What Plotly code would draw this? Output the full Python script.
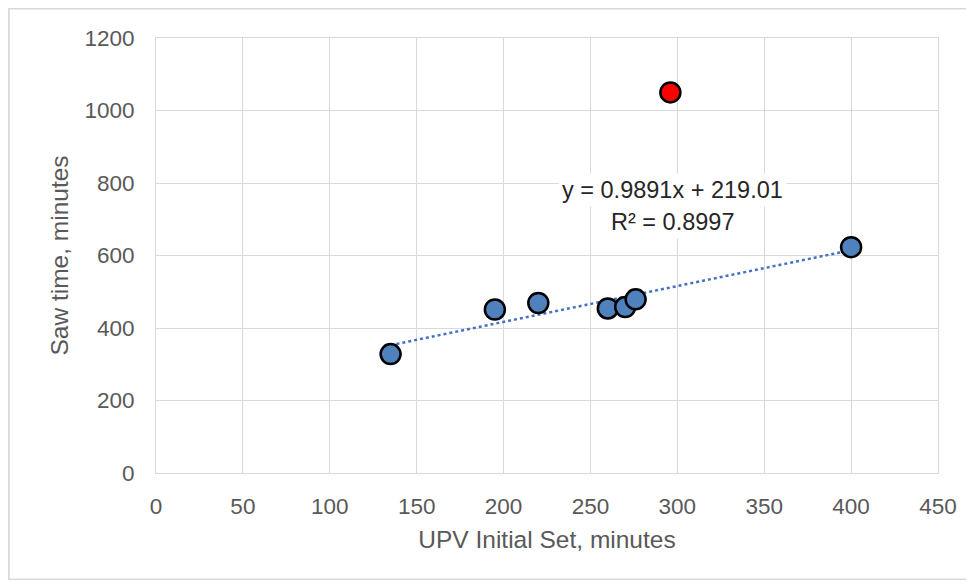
import plotly.graph_objects as go

upv_initial_set = [135, 195, 220, 260, 270, 276, 400]
saw_time = [328, 451, 469, 454, 458, 479, 623]
outlier_x = [296]
outlier_y = [1050]
slope = 0.9891
intercept = 219.01
r_squared = 0.8997
x_ticks = [0, 50, 100, 150, 200, 250, 300, 350, 400, 450]
y_ticks = [0, 200, 400, 600, 800, 1000, 1200]

FONT = "Liberation Sans"
tick_font = dict(family=FONT, size=22.5, color="#595959")
title_font = dict(family=FONT, size=24.5, color="#595959")
grid = "#d9d9d9"

trend_x = [min(upv_initial_set), max(upv_initial_set)]
trend_y = [slope * v + intercept for v in trend_x]

fig = go.Figure()
fig.add_trace(go.Scatter(x=trend_x, y=trend_y, mode="lines",
                         line=dict(color="#4472C4", width=2.5, dash="dot"),
                         hoverinfo="skip", showlegend=False))
fig.add_trace(go.Scatter(x=upv_initial_set, y=saw_time, mode="markers",
                         marker=dict(size=20, color="#4F81BD", line=dict(color="black", width=2.5)),
                         showlegend=False))
fig.add_trace(go.Scatter(x=outlier_x, y=outlier_y, mode="markers",
                         marker=dict(size=20, color="#FF0000", line=dict(color="black", width=2.5)),
                         showlegend=False))

ann_font = dict(family=FONT, size=23.5, color="#262626")
fig.add_annotation(x=297, y=781, xref="x", yref="y",
                   text=f"y = {slope}x + {intercept}", showarrow=False,
                   font=ann_font, bgcolor="white", borderpad=3)
fig.add_annotation(x=297, y=693, xref="x", yref="y",
                   text=f"R² = {r_squared}", showarrow=False,
                   font=ann_font, bgcolor="white", borderpad=3)

W, H = 962, 572
L, R, T, B = 148, 32, 30, 107
fig.add_shape(type="rect", xref="paper", yref="paper",
              x0=-L / (W - L - R) + 0.001, x1=1 + R / (W - L - R) - 0.001,
              y0=-B / (H - T - B) + 0.001, y1=1 + T / (H - T - B) - 0.001,
              line=dict(color="#d9d9d9", width=2), fillcolor="rgba(0,0,0,0)", layer="below")

fig.update_layout(
    width=W, height=H,
    margin=dict(l=L, r=R, t=T, b=B),
    paper_bgcolor="white", plot_bgcolor="white",
    xaxis=dict(range=[0, 450], tickvals=x_ticks, showgrid=True, gridcolor=grid, gridwidth=1,
               zeroline=False, showline=True, linecolor=grid, mirror=True,
               tickfont=tick_font, ticks="", ticklabelstandoff=13,
               title=dict(text="UPV Initial Set, minutes", font=title_font, standoff=12)),
    yaxis=dict(range=[0, 1200], tickvals=y_ticks, showgrid=True, gridcolor=grid, gridwidth=1,
               zeroline=False, showline=True, linecolor=grid, mirror=True,
               tickfont=tick_font, ticks="", ticklabelstandoff=16,
               title=dict(text="Saw time, minutes", font=title_font, standoff=8)),
)

fig.write_html("out.html")
